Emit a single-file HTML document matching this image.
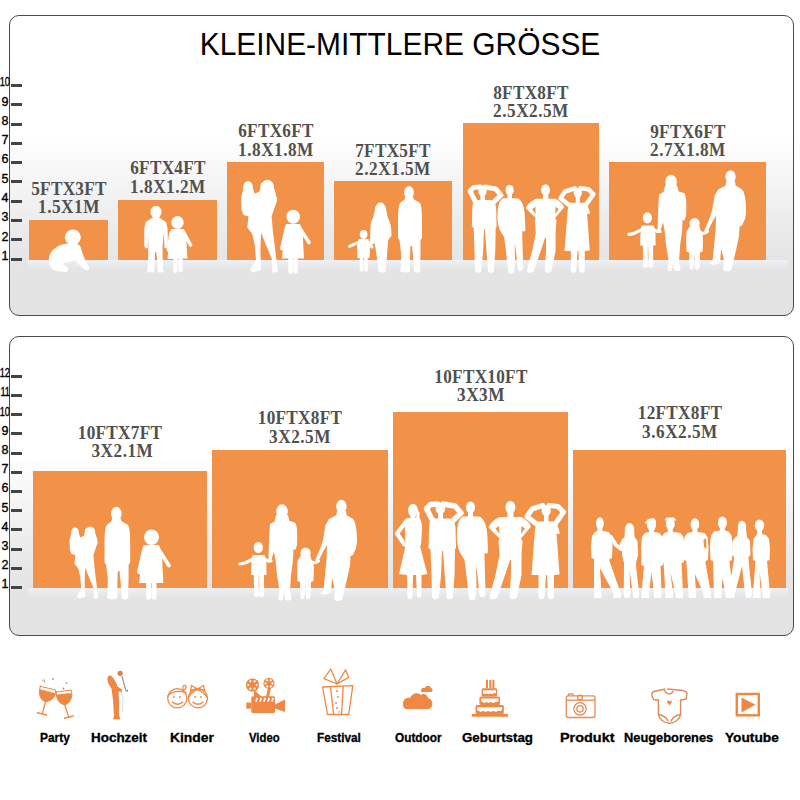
<!DOCTYPE html>
<html><head><meta charset="utf-8">
<style>
html,body{margin:0;padding:0;background:#fff;}
body{width:800px;height:800px;position:relative;overflow:hidden;font-family:"Liberation Sans",sans-serif;}
.panel{position:absolute;left:9px;width:783px;border:1px solid #4a4a4a;border-radius:10px;
 background:linear-gradient(to bottom,#ffffff 0%,#ffffff 40%,#f3f3f3 58%,#e9e9e9 74%,#e4e4e4 84%,#e3e3e3 100%);}
.tick{position:absolute;left:11px;width:11px;height:3px;background:#444;}
.num{position:absolute;left:-21.5px;width:30px;text-align:right;font-size:12.5px;line-height:12px;color:#000;-webkit-text-stroke:0.35px #000;}
.rect{position:absolute;background:#f29248;}
.lab{position:absolute;width:120px;text-align:center;font-family:"Liberation Serif",serif;font-weight:bold;font-size:18.5px;line-height:18.4px;transform:scaleX(0.93);color:#505050;letter-spacing:0.3px;}
.fl{position:absolute;left:28px;width:760px;height:10px;background:linear-gradient(to bottom,rgba(238,241,246,0.9),rgba(227,227,227,0));}
.title{position:absolute;left:0;top:29.8px;width:800px;text-align:center;font-size:31px;line-height:30px;color:#000;transform:scaleX(0.965);}
svg{position:absolute;left:0;top:0;}
.ilab{position:absolute;top:732.4px;font-size:12px;line-height:12px;font-weight:bold;color:#000;transform-origin:0 0;white-space:nowrap;-webkit-text-stroke:0.3px #000;}
</style></head><body>
<div class="panel" style="top:15px;height:299px"></div>
<div class="panel" style="top:336px;height:298px"></div>
<div class="title">KLEINE-MITTLERE GRÖSSE</div>
<div class="tick" style="top:257.60px"></div>
<div class="num" style="top:249.94px">1</div>
<div class="tick" style="top:238.31px"></div>
<div class="num" style="top:230.65px">2</div>
<div class="tick" style="top:219.02px"></div>
<div class="num" style="top:211.36px">3</div>
<div class="tick" style="top:199.73px"></div>
<div class="num" style="top:192.07px">4</div>
<div class="tick" style="top:180.44px"></div>
<div class="num" style="top:172.78px">5</div>
<div class="tick" style="top:161.15px"></div>
<div class="num" style="top:153.49px">6</div>
<div class="tick" style="top:141.86px"></div>
<div class="num" style="top:134.20px">7</div>
<div class="tick" style="top:122.57px"></div>
<div class="num" style="top:114.91px">8</div>
<div class="tick" style="top:103.28px"></div>
<div class="num" style="top:95.62px">9</div>
<div class="tick" style="top:83.99px"></div>
<div class="num" style="top:76.33px;transform:scaleX(0.74);transform-origin:100% 50%;left:-20.5px">10</div>
<div class="tick" style="top:586.00px"></div>
<div class="num" style="top:578.34px">1</div>
<div class="tick" style="top:566.80px"></div>
<div class="num" style="top:559.14px">2</div>
<div class="tick" style="top:547.60px"></div>
<div class="num" style="top:539.94px">3</div>
<div class="tick" style="top:528.40px"></div>
<div class="num" style="top:520.74px">4</div>
<div class="tick" style="top:509.20px"></div>
<div class="num" style="top:501.54px">5</div>
<div class="tick" style="top:490.00px"></div>
<div class="num" style="top:482.34px">6</div>
<div class="tick" style="top:470.80px"></div>
<div class="num" style="top:463.14px">7</div>
<div class="tick" style="top:451.60px"></div>
<div class="num" style="top:443.94px">8</div>
<div class="tick" style="top:432.40px"></div>
<div class="num" style="top:424.74px">9</div>
<div class="tick" style="top:413.20px"></div>
<div class="num" style="top:405.54px;transform:scaleX(0.74);transform-origin:100% 50%;left:-20.5px">10</div>
<div class="tick" style="top:394.00px"></div>
<div class="num" style="top:386.34px;transform:scaleX(0.74);transform-origin:100% 50%;left:-20.5px">11</div>
<div class="tick" style="top:374.80px"></div>
<div class="num" style="top:367.14px;transform:scaleX(0.74);transform-origin:100% 50%;left:-20.5px">12</div>
<div class="rect" style="left:29px;top:220px;width:79px;height:40px"></div>
<div class="lab" style="left:8.5px;top:179.80px">5FTX3FT<br><span style="letter-spacing:0.55px">1.5X1M</span></div>
<div class="rect" style="left:118px;top:200px;width:99px;height:60px"></div>
<div class="lab" style="left:107.5px;top:159.20px">6FTX4FT<br><span style="letter-spacing:0.55px">1.8X1.2M</span></div>
<div class="rect" style="left:227px;top:162px;width:97px;height:98px"></div>
<div class="lab" style="left:215.5px;top:122.40px">6FTX6FT<br><span style="letter-spacing:0.55px">1.8X1.8M</span></div>
<div class="rect" style="left:334px;top:181px;width:118px;height:79px"></div>
<div class="lab" style="left:333.0px;top:142.00px">7FTX5FT<br><span style="letter-spacing:0.55px">2.2X1.5M</span></div>
<div class="rect" style="left:462.5px;top:123px;width:136.5px;height:137px"></div>
<div class="lab" style="left:470.75px;top:83.90px">8FTX8FT<br><span style="letter-spacing:0.55px">2.5X2.5M</span></div>
<div class="rect" style="left:609px;top:162px;width:157px;height:98px"></div>
<div class="lab" style="left:627.5px;top:122.80px">9FTX6FT<br><span style="letter-spacing:0.55px">2.7X1.8M</span></div>
<div class="rect" style="left:33px;top:470.5px;width:174px;height:117.0px"></div>
<div class="lab" style="left:60.0px;top:423.80px">10FTX7FT<br><span style="letter-spacing:0.55px">&nbsp;3X2.1M</span></div>
<div class="rect" style="left:212px;top:450px;width:176px;height:137.5px"></div>
<div class="lab" style="left:240.0px;top:409.10px">10FTX8FT<br><span style="letter-spacing:0.55px">3X2.5M</span></div>
<div class="rect" style="left:393px;top:412px;width:175px;height:175.5px"></div>
<div class="lab" style="left:420.5px;top:368.00px">10FTX10FT<br><span style="letter-spacing:0.55px">3X3M</span></div>
<div class="rect" style="left:573px;top:450px;width:213px;height:137.5px"></div>
<div class="lab" style="left:619.5px;top:404.10px">12FTX8FT<br><span style="letter-spacing:0.55px">3.6X2.5M</span></div>
<div class="fl" style="top:260px"></div><div class="fl" style="top:587.5px"></div>
<svg width="800" height="800" viewBox="0 0 800 800" fill="#ffffff"><ellipse cx="258.3" cy="547.5" rx="4.6" ry="5.6"/>
<polygon points="252.50,555.00 264.50,555.00 266.30,560.00 266.50,575.00 251.00,575.00 251.50,560.00"/>
<polyline points="253,559 245,563 239.8,564" fill="none" stroke="#ffffff" stroke-width="3.2" stroke-linecap="round" stroke-linejoin="round"/>
<polyline points="264,559 268,561 271,561" fill="none" stroke="#ffffff" stroke-width="3.2" stroke-linecap="round" stroke-linejoin="round"/>
<polygon points="253.70,574.00 258.70,574.00 258.80,596.00 254.20,596.00"/>
<polyline points="256.5,595 256.5,593.7" fill="none" stroke="#ffffff" stroke-width="4.6" stroke-linecap="round" stroke-linejoin="round"/>
<polygon points="259.00,574.00 264.00,574.00 264.10,596.00 259.50,596.00"/>
<polyline points="261.8,595 261.8,593.7" fill="none" stroke="#ffffff" stroke-width="4.6" stroke-linecap="round" stroke-linejoin="round"/>
<ellipse cx="282" cy="511.5" rx="5.8" ry="7.2"/>
<path d="M276,515 L288,515 L289.5,521 L295,522.5 C297.5,526 297.5,535 297,545 L295.5,550 L293.5,549 L293,560 L291,575 L290,590 L291.5,599 C290,601 286,601 285,599 L284,590 L283,599 C282,601 279,601 278.5,599 L279.5,590 L277,575 L275.5,560 L274,552 L272.5,556 L271,562 C269,563 268,561 268.5,558 C269,548 269,535 270,524 L274.5,521.5 Z"/>
<ellipse cx="305.5" cy="553.2" rx="5.1" ry="5.7"/>
<path d="M300.5,556 L310.5,556 L311.5,560 L313,561 C314,565 314,572 313.5,581 L311,582 L310.5,597 C309,600 306.5,600 306,597 L305.5,584 L304.5,597 C304,600 301,600 300.5,597 L300,582 L297.5,581 C297,574 297,566 297.5,561 Z"/>
<polyline points="311.5,563 316,562.5 318.5,561" fill="none" stroke="#ffffff" stroke-width="3" stroke-linecap="round" stroke-linejoin="round"/>
<ellipse cx="341.4" cy="506.4" rx="5.2" ry="6.6"/>
<path d="M337,511 L346,511 L346.5,515 L353,519 C356,522 357,532 357,542 L356,548 L353,555 L350.5,556 L350,565 C348,575 345,588 342.5,599 C341,601.5 335,601.5 334,599 L335,590 L332,578 L331,592 C328,595 322,595 320.5,593 L323.5,590 L325,575 L326.5,560 L327,545 L323.5,551 L319,560 C317,563 314.5,562 315.5,559.5 L320,549 L323,540 L325.5,525 L329,519 L336.5,515 Z"/>
<g transform="translate(389.1,-329.6)">
<ellipse cx="258.3" cy="547.5" rx="4.6" ry="5.6"/>
<polygon points="252.50,555.00 264.50,555.00 266.30,560.00 266.50,575.00 251.00,575.00 251.50,560.00"/>
<polyline points="253,559 245,563 239.8,564" fill="none" stroke="#ffffff" stroke-width="3.2" stroke-linecap="round" stroke-linejoin="round"/>
<polyline points="264,559 268,561 271,561" fill="none" stroke="#ffffff" stroke-width="3.2" stroke-linecap="round" stroke-linejoin="round"/>
<polygon points="253.70,574.00 258.70,574.00 258.80,596.00 254.20,596.00"/>
<polyline points="256.5,595 256.5,593.7" fill="none" stroke="#ffffff" stroke-width="4.6" stroke-linecap="round" stroke-linejoin="round"/>
<polygon points="259.00,574.00 264.00,574.00 264.10,596.00 259.50,596.00"/>
<polyline points="261.8,595 261.8,593.7" fill="none" stroke="#ffffff" stroke-width="4.6" stroke-linecap="round" stroke-linejoin="round"/>
<ellipse cx="282" cy="511.5" rx="5.8" ry="7.2"/>
<path d="M276,515 L288,515 L289.5,521 L295,522.5 C297.5,526 297.5,535 297,545 L295.5,550 L293.5,549 L293,560 L291,575 L290,590 L291.5,599 C290,601 286,601 285,599 L284,590 L283,599 C282,601 279,601 278.5,599 L279.5,590 L277,575 L275.5,560 L274,552 L272.5,556 L271,562 C269,563 268,561 268.5,558 C269,548 269,535 270,524 L274.5,521.5 Z"/>
<ellipse cx="305.5" cy="553.2" rx="5.1" ry="5.7"/>
<path d="M300.5,556 L310.5,556 L311.5,560 L313,561 C314,565 314,572 313.5,581 L311,582 L310.5,597 C309,600 306.5,600 306,597 L305.5,584 L304.5,597 C304,600 301,600 300.5,597 L300,582 L297.5,581 C297,574 297,566 297.5,561 Z"/>
<polyline points="311.5,563 316,562.5 318.5,561" fill="none" stroke="#ffffff" stroke-width="3" stroke-linecap="round" stroke-linejoin="round"/>
<ellipse cx="341.4" cy="506.4" rx="5.2" ry="6.6"/>
<path d="M337,511 L346,511 L346.5,515 L353,519 C356,522 357,532 357,542 L356,548 L353,555 L350.5,556 L350,565 C348,575 345,588 342.5,599 C341,601.5 335,601.5 334,599 L335,590 L332,578 L331,592 C328,595 322,595 320.5,593 L323.5,590 L325,575 L326.5,560 L327,545 L323.5,551 L319,560 C317,563 314.5,562 315.5,559.5 L320,549 L323,540 L325.5,525 L329,519 L336.5,515 Z"/>
</g>
<ellipse cx="413" cy="510.3" rx="4.9" ry="6.5"/>
<polygon points="417.00,510.00 419.50,512.00 419.50,520.00 416.00,520.00"/>
<polygon points="410.50,515.00 415.50,515.00 415.50,520.00 410.50,520.00"/>
<polyline points="406.5,521 397,533.5 404.5,544.5" fill="none" stroke="#ffffff" stroke-width="4.2" stroke-linecap="round" stroke-linejoin="round"/>
<path d="M407,518 L419,518 C421,519 422,523 422,530 L421,545 L420,546 L427.3,574 L421.5,575 L421.5,596 C420.5,598 417,598 417,596 L416,575 L413,575 L412.5,597 C411.5,600 407.5,600 407.5,597 L407,575 L399,574 L405.5,546 L405,530 C405,523 405.5,519 407,518 Z"/>
<ellipse cx="440.4" cy="508.5" rx="4.8" ry="5.6"/>
<polygon points="438.00,512.00 443.00,512.00 443.00,519.00 438.00,519.00"/>
<polyline points="433,521.5 426.5,508.5 430.5,504.5 438,504" fill="none" stroke="#ffffff" stroke-width="5.4" stroke-linecap="round" stroke-linejoin="round"/>
<polyline points="452,521.5 461,513 455,506 443,504" fill="none" stroke="#ffffff" stroke-width="5.4" stroke-linecap="round" stroke-linejoin="round"/>
<path d="M432,518.5 L449.5,518.5 C453,519.5 455,522 455.5,528 L456,548.5 L455,549 L454.5,575 L453,597 C452,600 446.5,600 446.5,597 L444,565 L443,551 L442,551 L441,575 L439,597 C438,600 432.5,600 432,597 L431.5,575 L430.5,549 L428.5,548.5 L429,528 C429.5,522 430,519.5 432,518.5 Z"/>
<ellipse cx="470.5" cy="507.4" rx="4.6" ry="5.8"/>
<polygon points="468.00,511.00 473.00,511.00 473.00,518.00 468.00,518.00"/>
<path d="M463,516.5 L479,516.5 C484,518 487,525 487.5,538 L488,552 C487,554 485,554 484.5,552 L484.5,557 L485,575 L485.5,595 C484,598 480,598 479.5,595 L477.5,575 L476,566 L476.5,585 L475.5,598.5 C474,601 469.5,601 469,598 L467,580 L464.5,560 L461.5,555 C458,550 456.5,542 457,533 C457.5,524 459,519 463,516.5 Z"/>
<ellipse cx="510.4" cy="507.3" rx="5" ry="6.4"/>
<polygon points="507.50,511.00 513.50,511.00 513.50,518.00 507.50,518.00"/>
<path d="M500,517 L521,517 C526,519 530,523 531,526.5 L521,538.5 L522.5,541 L521.5,555 L521.5,575 L517,597 C515.5,600 510,600 509.5,597 L511,575 L511,560 L510,560 L505,575 L497.5,597 C496,600 490,600 489.5,597 L495.5,575 L499.5,555 L498.5,541 L499.5,538.5 L488.5,527.5 C490,523 495,519 500,517 Z"/>
<path fill="#f29248" d="M495.5,528.5 L499,526 L499.5,534 Z"/>
<path fill="#f29248" d="M525,528.5 L521.5,526 L521,534 Z"/>
<ellipse cx="546.2" cy="510.6" rx="4.6" ry="5.4"/>
<polygon points="544.00,514.00 548.50,514.00 548.50,522.00 544.00,522.00"/>
<polyline points="536.5,524 527,516.5 532,509 543,505.5" fill="none" stroke="#ffffff" stroke-width="5" stroke-linecap="round" stroke-linejoin="round"/>
<polyline points="555.5,523.5 563.5,512 558,506.5 549,505.5" fill="none" stroke="#ffffff" stroke-width="5" stroke-linecap="round" stroke-linejoin="round"/>
<path d="M536.5,521.5 L555.5,521.5 C557,523 558,527 560,533.5 L556.5,534 L557,540 L559.5,574.5 L554,575 L554,597 C553,600 548,600 548,597 L547,575 L546,575 L544.5,597 C543.5,600 538.5,600 538.5,597 L538.5,575 L531.5,575 L534,542 L535,530 Z"/>
<g transform="translate(86.2,-266.6) scale(0.9)">
<ellipse cx="440.4" cy="508.5" rx="4.8" ry="5.6"/>
<polygon points="438.00,512.00 443.00,512.00 443.00,519.00 438.00,519.00"/>
<polyline points="433,521.5 426.5,508.5 430.5,504.5 438,504" fill="none" stroke="#ffffff" stroke-width="5.4" stroke-linecap="round" stroke-linejoin="round"/>
<polyline points="452,521.5 461,513 455,506 443,504" fill="none" stroke="#ffffff" stroke-width="5.4" stroke-linecap="round" stroke-linejoin="round"/>
<path d="M432,518.5 L449.5,518.5 C453,519.5 455,522 455.5,528 L456,548.5 L455,549 L454.5,575 L453,597 C452,600 446.5,600 446.5,597 L444,565 L443,551 L442,551 L441,575 L439,597 C438,600 432.5,600 432,597 L431.5,575 L430.5,549 L428.5,548.5 L429,528 C429.5,522 430,519.5 432,518.5 Z"/>
<ellipse cx="470.5" cy="507.4" rx="4.6" ry="5.8"/>
<polygon points="468.00,511.00 473.00,511.00 473.00,518.00 468.00,518.00"/>
<path d="M463,516.5 L479,516.5 C484,518 487,525 487.5,538 L488,552 C487,554 485,554 484.5,552 L484.5,557 L485,575 L485.5,595 C484,598 480,598 479.5,595 L477.5,575 L476,566 L476.5,585 L475.5,598.5 C474,601 469.5,601 469,598 L467,580 L464.5,560 L461.5,555 C458,550 456.5,542 457,533 C457.5,524 459,519 463,516.5 Z"/>
<ellipse cx="510.4" cy="507.3" rx="5" ry="6.4"/>
<polygon points="507.50,511.00 513.50,511.00 513.50,518.00 507.50,518.00"/>
<path d="M500,517 L521,517 C526,519 530,523 531,526.5 L521,538.5 L522.5,541 L521.5,555 L521.5,575 L517,597 C515.5,600 510,600 509.5,597 L511,575 L511,560 L510,560 L505,575 L497.5,597 C496,600 490,600 489.5,597 L495.5,575 L499.5,555 L498.5,541 L499.5,538.5 L488.5,527.5 C490,523 495,519 500,517 Z"/>
<path fill="#f29248" d="M495.5,528.5 L499,526 L499.5,534 Z"/>
<path fill="#f29248" d="M525,528.5 L521.5,526 L521,534 Z"/>
<ellipse cx="546.2" cy="510.6" rx="4.6" ry="5.4"/>
<polygon points="544.00,514.00 548.50,514.00 548.50,522.00 544.00,522.00"/>
<polyline points="536.5,524 527,516.5 532,509 543,505.5" fill="none" stroke="#ffffff" stroke-width="5" stroke-linecap="round" stroke-linejoin="round"/>
<polyline points="555.5,523.5 563.5,512 558,506.5 549,505.5" fill="none" stroke="#ffffff" stroke-width="5" stroke-linecap="round" stroke-linejoin="round"/>
<path d="M536.5,521.5 L555.5,521.5 C557,523 558,527 560,533.5 L556.5,534 L557,540 L559.5,574.5 L554,575 L554,597 C553,600 548,600 548,597 L547,575 L546,575 L544.5,597 C543.5,600 538.5,600 538.5,597 L538.5,575 L531.5,575 L534,542 L535,530 Z"/>
</g>
<ellipse cx="72.8" cy="237.3" rx="8" ry="7.8"/>
<path d="M64,244 C56,246 50,251 49,258 C48,264 50,269 56,271 L66,272 C69,271 69,268 66,266 L62,264 C66,262 72,262 75,260 C77,262 80,266 84,269 C87,271 90,270 89,267 C86,262 83,256 81,248 C80,244 76,243 72,243 Z"/>
<ellipse cx="156" cy="212" rx="5.5" ry="6.3"/>
<polygon points="153.50,217.00 158.50,217.00 163.00,220.00 166.00,222.00 167.50,228.00 168.00,246.00 166.50,248.50 164.50,248.00 163.80,232.00 162.50,247.00 162.80,262.00 163.20,270.00 164.50,272.30 157.50,272.50 157.50,262.00 156.20,252.00 155.20,252.00 154.50,262.00 154.30,272.30 146.80,272.30 148.00,266.00 148.30,247.00 148.30,232.00 147.80,248.00 145.80,248.50 144.20,246.00 144.30,228.00 145.80,222.00 148.80,220.00"/>
<ellipse cx="177.5" cy="222.5" rx="6.2" ry="6.4"/>
<polygon points="171.00,229.00 184.00,229.00 186.00,236.00 187.50,258.50 167.50,259.00 169.50,236.00"/>
<polyline points="171,233 168.5,250" fill="none" stroke="#ffffff" stroke-width="3.6" stroke-linecap="round" stroke-linejoin="round"/>
<polyline points="184,233 190.5,245" fill="none" stroke="#ffffff" stroke-width="3.6" stroke-linecap="round" stroke-linejoin="round"/>
<polyline points="175.5,257 175.5,271" fill="none" stroke="#ffffff" stroke-width="4.2" stroke-linecap="round" stroke-linejoin="round"/>
<polyline points="180.5,257 180.5,270" fill="none" stroke="#ffffff" stroke-width="4.2" stroke-linecap="round" stroke-linejoin="round"/>
<ellipse cx="267.5" cy="187.5" rx="6.5" ry="7.8"/>
<ellipse cx="248" cy="187" rx="4.8" ry="6"/>
<path d="M243.5,188 L241,197.5 L241.5,210 L243.5,215 L248.5,216.25 L247.25,227.5 L252.25,233.75 L254.75,245 L256,260 L249.75,270 L253.5,272.5 L261,270 L260.4,250 L261,232.5 L266,245 L272.25,260 L272.25,272.5 L277.9,271.9 L276,256.25 L272.9,231.25 L271.6,216.25 L277.25,200 L274.75,190 L267.25,181 L261,183 L259.75,191.25 L254.75,193.75 L252.25,186 L248,181.5 Z"/>
<ellipse cx="293.2" cy="216.8" rx="6.8" ry="7"/>
<polygon points="286.00,224.00 300.00,224.00 302.50,230.00 304.00,258.50 282.00,258.50 284.50,230.00"/>
<polyline points="286.5,228 281.8,248.5" fill="none" stroke="#ffffff" stroke-width="3.6" stroke-linecap="round" stroke-linejoin="round"/>
<polyline points="301,230 309,242.5" fill="none" stroke="#ffffff" stroke-width="3.6" stroke-linecap="round" stroke-linejoin="round"/>
<polyline points="290.5,256 290.5,271.5" fill="none" stroke="#ffffff" stroke-width="4.5" stroke-linecap="round" stroke-linejoin="round"/>
<polyline points="295.5,256 295.5,271.5" fill="none" stroke="#ffffff" stroke-width="4.5" stroke-linecap="round" stroke-linejoin="round"/>
<ellipse cx="363.6" cy="234.5" rx="3.9" ry="4.6"/>
<polygon points="358.50,239.00 368.50,239.00 370.00,246.00 369.50,258.00 357.50,258.00 357.00,246.00"/>
<polyline points="359,242 349.5,246.3" fill="none" stroke="#ffffff" stroke-width="3" stroke-linecap="round" stroke-linejoin="round"/>
<polyline points="368,242 372,247" fill="none" stroke="#ffffff" stroke-width="3" stroke-linecap="round" stroke-linejoin="round"/>
<polyline points="361.5,257 361.5,270" fill="none" stroke="#ffffff" stroke-width="3.6" stroke-linecap="round" stroke-linejoin="round"/>
<polyline points="366,257 366,270" fill="none" stroke="#ffffff" stroke-width="3.6" stroke-linecap="round" stroke-linejoin="round"/>
<ellipse cx="380.5" cy="208.5" rx="4.8" ry="6.2"/>
<polygon points="375.50,206.00 385.50,206.00 388.00,218.50 373.00,218.50"/>
<path d="M373,218 L388,218 C390.5,222 391.5,228 391.5,236 L389.5,238 L388,241 L387,256 L386,266 L385.5,271 C384,273 380,273 378.5,271 L377.5,262 L375.5,248 L374.5,243 L372.5,244.5 C370,245 369,243 370,241 L370.5,226 C371,222 371.5,220 373,218 Z"/>
<ellipse cx="409" cy="192.5" rx="5" ry="6.5"/>
<path d="M405,197 L413,197 L414,199.5 L420,203 C421.5,206 422,212 422,222 L422,238 L420.5,240 L420.5,253 L420,268 L420.5,271.5 C419,273 415,273 414,271 L413,256 L412,246 L410.5,246 L410,256 L410,268 L410,271 C408,273 402,273 400,271 L401,268 L401,253 L399.5,240 L398,238 L398,222 C398,212 398.5,206 400,203 L404.5,199.5 Z"/>
<g transform="translate(90.2,532.5) scale(0.78) translate(-267.5,-187.5)">
<ellipse cx="267.5" cy="187.5" rx="6.5" ry="7.8"/>
<ellipse cx="248" cy="187" rx="4.8" ry="6"/>
<path d="M243.5,188 L241,197.5 L241.5,210 L243.5,215 L248.5,216.25 L247.25,227.5 L252.25,233.75 L254.75,245 L256,260 L249.75,270 L253.5,272.5 L261,270 L260.4,250 L261,232.5 L266,245 L272.25,260 L272.25,272.5 L277.9,271.9 L276,256.25 L272.9,231.25 L271.6,216.25 L277.25,200 L274.75,190 L267.25,181 L261,183 L259.75,191.25 L254.75,193.75 L252.25,186 L248,181.5 Z"/>
</g>
<g transform="translate(116.3,513.8) scale(1.07) translate(-409,-192.5)">
<ellipse cx="409" cy="192.5" rx="5" ry="6.5"/>
<path d="M405,197 L413,197 L414,199.5 L420,203 C421.5,206 422,212 422,222 L422,238 L420.5,240 L420.5,253 L420,268 L420.5,271.5 C419,273 415,273 414,271 L413,256 L412,246 L410.5,246 L410,256 L410,268 L410,271 C408,273 402,273 400,271 L401,268 L401,253 L399.5,240 L398,238 L398,222 C398,212 398.5,206 400,203 L404.5,199.5 Z"/>
</g>
<g transform="translate(151.5,537.2) scale(1.1) translate(-293.2,-216.8)">
<ellipse cx="293.2" cy="216.8" rx="6.8" ry="7"/>
<polygon points="286.00,224.00 300.00,224.00 302.50,230.00 304.00,258.50 282.00,258.50 284.50,230.00"/>
<polyline points="286.5,228 281.8,248.5" fill="none" stroke="#ffffff" stroke-width="3.6" stroke-linecap="round" stroke-linejoin="round"/>
<polyline points="301,230 309,242.5" fill="none" stroke="#ffffff" stroke-width="3.6" stroke-linecap="round" stroke-linejoin="round"/>
<polyline points="290.5,256 290.5,271.5" fill="none" stroke="#ffffff" stroke-width="4.5" stroke-linecap="round" stroke-linejoin="round"/>
<polyline points="295.5,256 295.5,271.5" fill="none" stroke="#ffffff" stroke-width="4.5" stroke-linecap="round" stroke-linejoin="round"/>
</g>
<ellipse cx="599.9" cy="523.2" rx="3.9" ry="6"/>
<path d="M597.60,527.20 L597.30,531.00 L595.00,532.00 L592.00,536.00 L591.00,546.00 L591.50,558.00 L594.00,559.00 L594.00,561.00 L594.00,594.00 L594.00,598.00 L601.50,598.00 L601.50,593.00 L599.90,568.00 L613.50,593.00 L613.50,598.00 L621.00,598.00 L621.00,594.00 L609.50,561.00 L609.50,559.00 L612.00,558.00 L612.50,546.00 L611.50,536.00 L608.50,532.00 L602.50,531.00 L602.20,527.20 Z"/>
<polyline points="611,537 616,545 621,549" fill="none" stroke="#ffffff" stroke-width="3.8" stroke-linecap="round" stroke-linejoin="round"/>
<ellipse cx="629.5" cy="529.5" rx="4.8" ry="6.5"/>
<path d="M625.00,529.50 L634.00,529.50 L635.30,545.00 L623.70,545.00 Z"/>
<path d="M627.50,535.00 L625.50,537.00 L622.50,541.00 L622.00,555.00 L624.00,563.00 L624.00,566.00 L623.75,594.00 L624.50,598.00 L629.50,598.00 L630.25,593.00 L629.50,570.00 L632.75,593.00 L633.50,598.00 L638.50,598.00 L639.25,594.00 L636.00,566.00 L636.00,563.00 L638.00,555.00 L637.50,541.00 L634.50,537.00 L631.50,535.00 Z"/>
<polyline points="623.5,540 620,548" fill="none" stroke="#ffffff" stroke-width="3.2" stroke-linecap="round" stroke-linejoin="round"/>
<ellipse cx="651.5" cy="525" rx="4.5" ry="6"/>
<path d="M649.20,529.00 L648.90,532.00 L645.00,533.00 L642.00,537.00 L641.00,547.00 L641.50,565.00 L644.00,566.00 L644.00,566.00 L641.50,594.00 L641.50,598.00 L649.00,598.00 L649.00,593.00 L651.50,572.00 L654.00,593.00 L654.00,598.00 L661.50,598.00 L661.50,594.00 L660.50,566.00 L660.50,566.00 L663.00,565.00 L663.50,547.00 L662.50,537.00 L659.50,533.00 L654.10,532.00 L653.80,529.00 Z"/>
<path d="M645.00,522.50 L648.00,519.00 L654.00,518.00 L656.00,521.00 L656.00,523.00 L645.00,523.50 Z"/>
<ellipse cx="670.3" cy="524" rx="4.5" ry="6"/>
<path d="M668.00,528.00 L667.70,532.00 L664.50,533.00 L661.50,537.00 L660.50,547.00 L661.00,562.00 L663.50,563.00 L663.50,562.00 L665.50,594.00 L665.50,598.00 L673.00,598.00 L673.00,593.00 L670.30,572.00 L675.50,593.00 L675.50,598.00 L683.00,598.00 L683.00,594.00 L681.50,562.00 L681.50,563.00 L684.00,562.00 L684.50,547.00 L683.50,537.00 L680.50,533.00 L672.90,532.00 L672.60,528.00 Z"/>
<path d="M664.50,520.50 L666.50,517.50 L674.00,517.50 L676.50,520.50 Z"/>
<ellipse cx="694.9" cy="524.2" rx="4.3" ry="6"/>
<path d="M692.60,528.20 L692.30,532.00 L687.50,533.00 L684.50,537.00 L683.50,547.00 L684.00,560.00 L686.50,561.00 L686.50,563.00 L688.50,594.00 L688.50,598.00 L696.00,598.00 L696.00,593.00 L694.90,574.00 L703.50,593.00 L703.50,598.00 L711.00,598.00 L711.00,594.00 L705.50,563.00 L705.50,561.00 L708.00,560.00 L708.50,547.00 L707.50,537.00 L704.50,533.00 L697.50,532.00 L697.20,528.20 Z"/>
<path fill="#f29248" d="M703.5,540 L706,538 L706.5,549 L704,547 Z"/>
<ellipse cx="722.4" cy="522.7" rx="4.5" ry="6.3"/>
<path d="M720.10,527.00 L719.80,530.50 L714.00,531.50 L711.00,535.50 L710.00,545.50 L710.50,560.00 L713.00,561.00 L713.00,562.00 L714.00,594.00 L714.00,598.00 L721.50,598.00 L721.50,593.00 L722.40,578.00 L725.50,593.00 L725.50,598.00 L733.00,598.00 L733.00,594.00 L729.50,562.00 L729.50,561.00 L732.00,560.00 L732.50,545.50 L731.50,535.50 L728.50,531.50 L725.00,530.50 L724.70,527.00 Z"/>
<ellipse cx="742" cy="527" rx="4.2" ry="6.2"/>
<path d="M738.10,527.00 L745.90,527.00 L747.20,541.00 L736.80,541.00 Z"/>
<path d="M740.00,535.00 L735.50,537.00 L732.50,541.00 L732.00,555.00 L734.00,557.00 L734.00,560.00 L728.00,594.00 L729.00,598.00 L734.00,598.00 L735.00,593.00 L742.00,566.00 L745.00,593.00 L746.00,598.00 L751.00,598.00 L752.00,594.00 L748.50,560.00 L748.50,557.00 L750.50,555.00 L750.00,541.00 L747.00,537.00 L744.00,535.00 Z"/>
<ellipse cx="759.5" cy="525.5" rx="4.7" ry="6"/>
<path d="M757.20,529.50 L756.90,534.00 L756.50,535.00 L753.50,539.00 L752.50,549.00 L753.00,560.00 L755.50,561.00 L755.50,561.00 L753.00,594.00 L753.00,598.00 L760.50,598.00 L760.50,593.00 L759.50,572.00 L762.50,593.00 L762.50,598.00 L770.00,598.00 L770.00,594.00 L767.00,561.00 L767.00,561.00 L769.50,560.00 L770.00,549.00 L769.00,539.00 L766.00,535.00 L762.10,534.00 L761.80,529.50 Z"/></svg>
<svg width="800" height="800" viewBox="0 0 800 800"><g fill="#ee8844" stroke="#ee8844" stroke-linecap="round" stroke-linejoin="round">
<path d="M40.3,686.3 L55.6,690 C56,696 52,701 46,701.5 C40,701 38.5,694 40.3,686.3 Z" fill="none" stroke-width="1.0"/>
<path d="M39.6,689.5 C43,690 50,692 55.4,693.5 C54.5,698 51,701 46,701.3 C41,701 39.3,695 39.6,689.5 Z" stroke-width="0.5"/>
<path d="M45.8,701 L42.5,713.2" fill="none" stroke-width="1.3"/>
<path d="M37.5,712.8 L46.5,715" fill="none" stroke-width="1.4"/>
<path d="M56.3,692 L71.3,690 C73,697 70,704 64.5,704.5 C59,704 56,698 56.3,692 Z" fill="none" stroke-width="1.0"/>
<path d="M56.6,695 C61,694 66,693.5 71.8,693.5 C71.5,700 68.5,704.3 64.5,704.4 C59.5,704.3 57,699 56.6,695 Z" stroke-width="0.5"/>
<path d="M64.6,704.5 L68.7,717.3" fill="none" stroke-width="1.3"/>
<path d="M64.5,718.2 L73.2,716" fill="none" stroke-width="1.4"/>
<circle cx="53" cy="679" r="0.9" stroke="none" fill="#999"/><circle cx="66.5" cy="683" r="0.9" stroke="none" fill="#aaa"/><path d="M42,680 L45,682 M44,679 L44.5,682" fill="none" stroke="#999" stroke-width="0.7"/><circle cx="63.5" cy="688.5" r="0.9" stroke="none" fill="#c77"/>
</g>
<circle cx="120.2" cy="673.3" r="2.6" fill="#d9824a"/>
<path d="M122,676.5 C123,680 124,684 125.5,689 C126,691.5 127.5,692 127.5,690" fill="none" stroke="#9a8f88" stroke-width="1.2" stroke-linecap="round"/>
<path d="M121.5,690 L123,700 L122,712" fill="none" stroke="#dde3ea" stroke-width="1"/>
<path d="M108,676.5 C106.5,679 108,684 111.5,688.5 L113,700 L114,716 L113,719.3 L120.5,719.5 L119,715.5 L119,700 L118.5,691.5 L121.5,692 L122,689.5 L117.5,686.5 C116,682 113.5,678 111.5,676 C110.5,675 108.5,675.5 108,676.5 Z" fill="#ee8844"/>
<g fill="none" stroke="#ee8844" stroke-width="1.3" stroke-linecap="round">
<circle cx="177.3" cy="698.3" r="9.6"/><circle cx="197.9" cy="698.3" r="9.6"/>
<path d="M167.8,696 C171,692 178,690.5 186,692.5"/><path d="M183,690 C182,686 184,684.5 186,686 C187,688 185,690 183,690"/>
<path d="M188.6,697 C191,693 194,690.5 197.5,689.5 C201,690.5 204,693 207,697"/><path d="M196.5,688.5 L191.5,685.5 L190.5,690.5 Z M198.5,688.5 L203.5,685.5 L204.5,690.5 Z"/>
<path d="M172.5,702 C175,705 180,705 182.5,702"/><path d="M193,702 C195.5,705 200.5,705 203,702"/>
</g>
<g fill="#ee8844"><circle cx="174" cy="697" r="0.9"/><circle cx="180" cy="697" r="0.9"/><circle cx="195" cy="697" r="0.9"/><circle cx="201" cy="697" r="0.9"/></g>
<g fill="#ee8844">
<circle cx="252.5" cy="685" r="6.6"/><circle cx="269" cy="683.4" r="5.6"/>
<rect x="251.3" y="696.3" width="23.7" height="16.8" rx="1.5"/>
<path d="M275,704.5 L285,699.4 L285,712 L275,708.5 Z"/>
<rect x="246.3" y="702.5" width="5" height="6.2"/>
<path d="M254,690 L262,697 L266,697 L268,688 L271,688 L269,697 L254,697 Z"/>
</g>
<g fill="#fff">
<circle cx="256.70" cy="685.00" r="1.1"/>
<circle cx="254.60" cy="688.64" r="1.1"/>
<circle cx="250.40" cy="688.64" r="1.1"/>
<circle cx="248.30" cy="685.00" r="1.1"/>
<circle cx="250.40" cy="681.36" r="1.1"/>
<circle cx="254.60" cy="681.36" r="1.1"/>
<circle cx="272.50" cy="683.40" r="1.1"/>
<circle cx="270.75" cy="686.43" r="1.1"/>
<circle cx="267.25" cy="686.43" r="1.1"/>
<circle cx="265.50" cy="683.40" r="1.1"/>
<circle cx="267.25" cy="680.37" r="1.1"/>
<circle cx="270.75" cy="680.37" r="1.1"/>
<rect x="256" y="697.5" width="1.6" height="4" transform="rotate(20 256 699)"/>
<rect x="260" y="697.5" width="1.6" height="4" transform="rotate(20 260 699)"/>
<rect x="264" y="697.5" width="1.6" height="4" transform="rotate(20 264 699)"/>
<rect x="268" y="697.5" width="1.6" height="4" transform="rotate(20 268 699)"/>
<rect x="272" y="697.5" width="1.6" height="4" transform="rotate(20 272 699)"/>
</g>
<g fill="none" stroke="#ee8844" stroke-width="1.3" stroke-linejoin="round" stroke-linecap="round">
<path d="M322.6,687 L352.8,685.6 L348.7,714.5 L327.5,714.5 Z"/>
<path d="M330.5,687 L333.6,714.5"/><path d="M343.2,686.5 L341.5,714.5"/>
<path d="M330.8,669 L324,678.7 L337,684 Z"/><path d="M345.6,669.8 L348.7,677.4 L337,684 Z"/>
</g>
<g fill="#ee8844"><circle cx="337" cy="691" r="1"/><circle cx="338" cy="697" r="0.9"/><circle cx="336" cy="703" r="0.9"/><circle cx="337" cy="708" r="1"/><circle cx="339" cy="712" r="0.8"/></g>
<g fill="#ee8844">
<path d="M403,704 C403,699 407,697 410,698 C412,693 418,692 421,695 C423,693 427,694 428,698 C432,699 433,703 432,706 C431,708.5 429,709 427,709 L407,709 C404,709 403,707 403,704 Z"/>
<path d="M421,691 C421,688 423,687 425,688 C426,685 430,685 431,688 C433,688 433,692 431,692 L422,692 C421,692 421,691.5 421,691 Z"/>
</g>
<g fill="#ee8844">
<rect x="486" y="679.8" width="2" height="8.5"/><rect x="489.3" y="679.8" width="2" height="8.5"/><rect x="492.4" y="679.8" width="2" height="8.5"/>
<rect x="481.6" y="688.2" width="15.6" height="8.2" rx="1.5"/>
<rect x="479.4" y="696.4" width="20.6" height="8.7" rx="1.5"/>
<rect x="475.6" y="705.1" width="28.2" height="8.8" rx="1.5"/>
<rect x="471.9" y="713.9" width="36.2" height="2.8"/>
</g>
<g fill="#fff">
<path d="M483,690.3 L496,690.3 L496,692.5 C495,694.5 494,692.5 492.8,693.8 C491.5,695 490.5,692.5 489.3,693.8 C488,695 487,692.5 485.8,693.8 C484.5,695 483.5,693 483,692.5 Z"/>
<path d="M481,698.6 L498.5,698.6 L498.5,701 C497.5,703.3 496,701 494.5,702.5 C493,704 491.5,701 490,702.5 C488.5,704 487,701 485.5,702.5 C484,704 482.5,701 481,701.5 Z"/>
<path d="M477.3,707.3 L502,707.3 L502,709.8 C500.5,712.3 499,709.8 497.3,711.3 C495.5,713 494,709.8 492.3,711.3 C490.5,713 489,709.8 487.3,711.3 C485.5,713 484,709.8 482.3,711.3 C480.5,713 479,710 477.3,710.5 Z"/>
</g>
<g fill="none" stroke="#e58a55" stroke-width="1.3" stroke-linejoin="round">
<rect x="566.3" y="695.8" width="28.7" height="21.7" rx="2"/>
<path d="M566.3,700.2 L595,700.2"/>
<circle cx="580" cy="708.8" r="6.2"/><circle cx="580" cy="708.8" r="3.2"/>
<circle cx="580" cy="697.5" r="2.4"/>
<path d="M568,695.8 L568.5,693.8 L573,693.8 L573.5,695.8"/>
</g>
<g fill="none" stroke="#dd8a5a" stroke-width="1.4" stroke-linejoin="round" stroke-linecap="round">
<path d="M664.4,689.2 L654,691.5 C651.5,692.5 651.5,694 652,696 L653.5,699.5 L658.4,700 L658.4,714.5 C659,719 664,723 669.4,723.3 C675,723 680,719 680.6,714.5 L680.6,700 L686.2,699 L687,693 C686.5,691.5 685,691 683,690.5 L667.5,689"/>
<path d="M664.4,689.2 C665,692 667,694 669.5,694 C671,694 672,693 673,691.5"/>
<path d="M658.5,714.5 C662,715 666,717 668,721"/><path d="M680.5,714.5 C677,715 673,717 671,721"/>
</g>
<path d="M667,701.6 C667.5,700 669,700.5 669.4,701.5 C669.8,700.5 671.3,700 671.8,701.6 C671.8,703 670,704.5 669.4,705.5 C668.8,704.5 667,703 667,701.6 Z" fill="#ee8844"/>
<rect x="736.8" y="694" width="22" height="21.3" fill="none" stroke="#ee8844" stroke-width="2.4"/>
<path d="M741.5,697.5 L755.5,704.8 L741.5,712.5 Z" fill="#ee8844"/></svg>
<div class="ilab" style="left:40.10px;transform:scaleX(0.993)">Party</div>
<div class="ilab" style="left:90.90px;transform:scaleX(1.120)">Hochzeit</div>
<div class="ilab" style="left:170.00px;transform:scaleX(1.155)">Kinder</div>
<div class="ilab" style="left:248.90px;transform:scaleX(0.942)">Video</div>
<div class="ilab" style="left:316.60px;transform:scaleX(0.980)">Festival</div>
<div class="ilab" style="left:395.00px;transform:scaleX(0.985)">Outdoor</div>
<div class="ilab" style="left:462.00px;transform:scaleX(1.109)">Geburtstag</div>
<div class="ilab" style="left:560.00px;transform:scaleX(1.201)">Produkt</div>
<div class="ilab" style="left:624.25px;transform:scaleX(1.070)">Neugeborenes</div>
<div class="ilab" style="left:725.20px;transform:scaleX(1.142)">Youtube</div>
</body></html>
